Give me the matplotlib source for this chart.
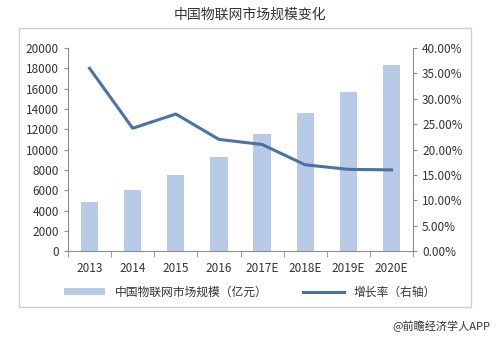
import matplotlib.pyplot as plt
from matplotlib.patches import Rectangle
from matplotlib.ticker import FuncFormatter, MultipleLocator

plt.rcParams['font.family'] = ['Noto Sans CJK SC', 'DejaVu Sans']

years = ['2013', '2014', '2015', '2016', '2017E', '2018E', '2019E', '2020E']
market_size = [4830, 6000, 7500, 9260, 11500, 13600, 15700, 18300]
growth = [36.0, 24.2, 27.0, 22.0, 21.0, 17.0, 16.1, 16.0]

bar_color = '#b7cbe6'
line_color = '#4a72a6'
axis_color = '#8c8c8c'

fig = plt.figure(figsize=(5, 3.38), dpi=100)
fig.patches.append(Rectangle((0.038, 0.092), 0.904, 0.825, transform=fig.transFigure,
                             fill=False, edgecolor='#cfcfcf', linewidth=1))
fig.text(0.5, 0.955, '中国物联网市场规模变化', ha='center', va='center', fontsize=10, color='#333333')

ax = fig.add_axes([0.136, 0.257, 0.69, 0.601])
x = range(len(years))
bars = ax.bar(x, market_size, width=0.4, color=bar_color, zorder=2,
              label='中国物联网市场规模（亿元）')
ax.set_xlim(-0.5, len(years) - 0.5)
ax.set_ylim(0, 20000)
ax.yaxis.set_major_locator(MultipleLocator(2000))
ax.set_xticks(list(x))
ax.set_xticklabels(years)
ax.set_xticks([i + 0.5 for i in range(-1, len(years))], minor=True)
ax.tick_params(axis='x', which='major', length=0, pad=8, labelsize=8.5, colors='#333333')
ax.tick_params(axis='x', which='minor', length=4, color=axis_color)
ax.tick_params(axis='y', length=3, color=axis_color, labelsize=8.5, labelcolor='#333333')
for s in ['top', 'right']:
    ax.spines[s].set_visible(False)
for s in ['left', 'bottom']:
    ax.spines[s].set_color(axis_color)

ax2 = ax.twinx()
line, = ax2.plot(x, growth, color=line_color, linewidth=2.2, zorder=3, label='增长率（右轴）')
ax2.set_ylim(0, 40)
ax2.yaxis.set_major_locator(MultipleLocator(5))
ax2.yaxis.set_major_formatter(FuncFormatter(lambda v, p: f'{v:.2f}%'))
ax2.tick_params(axis='y', length=3, color=axis_color, labelsize=8.5, labelcolor='#333333')
for s in ['top', 'left', 'bottom']:
    ax2.spines[s].set_visible(False)
ax2.spines['right'].set_color(axis_color)

fig.legend(handles=[bars, line], loc='center', bbox_to_anchor=(0.5, 0.135), ncol=2,
           frameon=False, fontsize=8.5, handlelength=3.5, handleheight=0.5, columnspacing=3,
           labelcolor='#333333')

fig.text(0.98, 0.035, '@前瞻经济学人APP', ha='right', va='center', fontsize=8, color='#333333')

fig.savefig('out.png', dpi=100)
